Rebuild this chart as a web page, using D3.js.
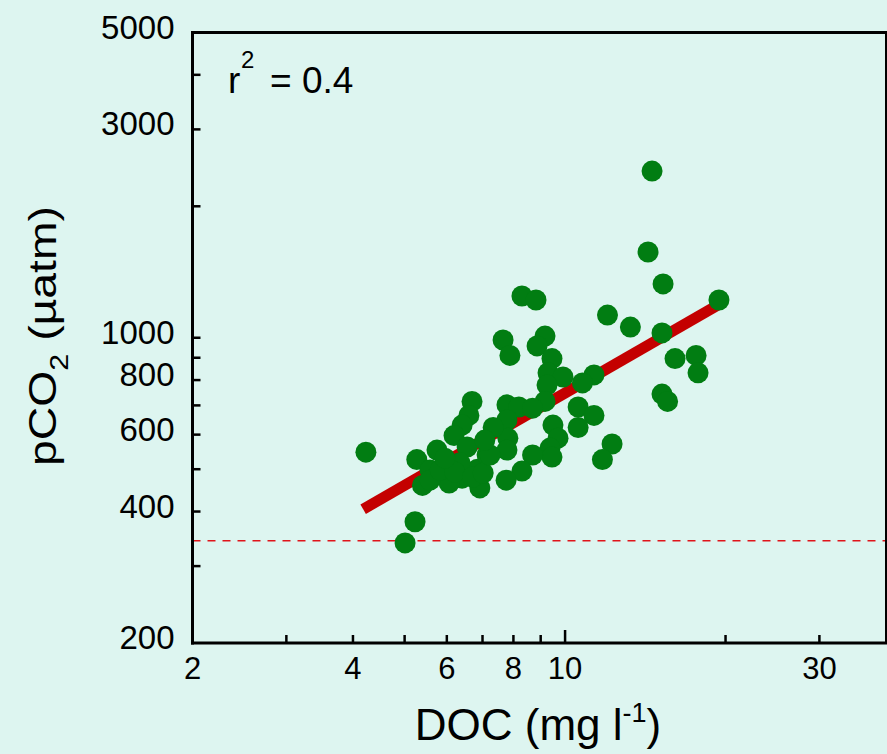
<!DOCTYPE html>
<html>
<head>
<meta charset="utf-8">
<script src="https://cdn.jsdelivr.net/npm/d3@7"></script>
<style>
  html, body { margin: 0; padding: 0; background: #ddf5f0; }
  svg { display: block; font-family: "Liberation Sans", Arial, sans-serif; }
</style>
</head>
<body>
<svg id="chart" width="887" height="754"></svg>
<script>
// Dissolved organic carbon (mg l-1) and pCO2 (µatm) for each sampled lake
const docValues = [
  14.56, 14.31, 15.27, 19.44, 12.01, 13.26, 15.20, 16.08, 17.61, 17.76,
  15.20, 15.57, 12.25, 11.75, 11.33, 10.78, 10.58, 11.33, 10.58,
  8.30, 8.82, 7.65, 7.88, 9.17, 8.86, 9.45, 9.29, 9.91, 9.25, 9.17,
  7.78, 8.19, 8.69, 9.49, 9.70, 9.37, 9.45, 8.69, 8.30, 7.75,
  7.78, 7.81, 7.78, 7.33, 6.92, 6.85, 7.14, 6.41,
  6.69, 6.60, 6.41, 6.19, 6.55, 6.35, 5.75, 5.27, 5.58, 5.40, 6.06,
  5.58, 5.83, 6.21, 6.71, 7.02, 7.23, 5.95, 7.07,
  4.23, 5.23, 5.01
];
const pco2Values = [
  2408, 1572, 1328, 1220, 1127, 1058, 1026, 896, 911, 831,
  743, 715, 571, 526, 822, 788, 694, 664, 623,
  1246, 1220, 988, 911, 1009, 958, 896, 831, 813, 779, 715,
  702, 694, 690, 631, 589, 559, 533, 539, 495, 472,
  648, 589, 553, 623, 453, 500, 539, 477,
  715, 664, 631, 597, 562, 517, 553, 526, 498, 459, 465,
  472, 498, 493, 480, 490, 539, 530, 583,
  547, 379, 339
];

// Log-log regression line endpoints
const fitDoc = [4.18, 19.36];
const fitPco2 = [405, 1189];
const rSquared = "0.4";

// Atmospheric equilibrium reference level
const atmPco2 = 343;

// Axis ticks and labels
const xTicks = [3, 4, 5, 6, 7, 8, 9, 10, 20, 30];
const xLabels = [2, 4, 6, 8, 10, 30];
const yTicks = [300, 400, 500, 600, 700, 800, 900, 1000, 2000, 3000, 4000];
const yLabels = [200, 400, 600, 800, 1000, 3000, 5000];

const svg = d3.select("#chart");
const plotLeft = 192.5, plotRight = 886, plotTop = 32.5, plotBottom = 643;

const x = d3.scaleLog().domain([2, 40]).range([plotLeft, plotRight]);
const y = d3.scaleLog().domain([200, 5000]).range([plotBottom, plotTop]);

// Dashed reference line
svg.append("line")
  .attr("x1", plotLeft).attr("x2", plotRight)
  .attr("y1", y(atmPco2)).attr("y2", y(atmPco2))
  .attr("stroke", "#e0141a").attr("stroke-width", 1.6)
  .attr("stroke-dasharray", "8,7");

// Regression line
svg.append("line")
  .attr("x1", x(fitDoc[0])).attr("y1", y(fitPco2[0]))
  .attr("x2", x(fitDoc[1])).attr("y2", y(fitPco2[1]))
  .attr("stroke", "#c40000").attr("stroke-width", 11);

// Observations
const pts = docValues.map((d, i) => ({ doc: d, pco2: pco2Values[i] }));
svg.append("g").selectAll("circle").data(pts).join("circle")
  .attr("cx", d => x(d.doc))
  .attr("cy", d => y(d.pco2))
  .attr("r", 10.5)
  .attr("fill", "#017d12");

// Frame: top and right
svg.append("line").attr("x1", plotLeft).attr("x2", plotRight + 2).attr("y1", plotTop).attr("y2", plotTop)
  .attr("stroke", "#000").attr("stroke-width", 3);
svg.append("line").attr("x1", plotRight).attr("x2", plotRight).attr("y1", plotTop).attr("y2", plotBottom)
  .attr("stroke", "#000").attr("stroke-width", 2);

// Bottom axis (ticks point inward)
const xAxis = svg.append("g").attr("transform", `translate(0,${plotBottom})`);
xAxis.append("line").attr("x1", plotLeft - 1.5).attr("x2", plotRight + 2).attr("stroke", "#000").attr("stroke-width", 3);
xAxis.selectAll("line.tick").data(xTicks).join("line").attr("class", "tick")
  .attr("x1", d => x(d)).attr("x2", d => x(d))
  .attr("y1", 0).attr("y2", d => d === 10 ? -13 : -8)
  .attr("stroke", "#000").attr("stroke-width", 2.5);
xAxis.selectAll("text").data(xLabels).join("text")
  .attr("x", d => x(d)).attr("y", 36)
  .attr("text-anchor", "middle")
  .attr("font-size", 31)
  .text(d => d);

// Left axis (ticks point inward)
const yAxis = svg.append("g").attr("transform", `translate(${plotLeft},0)`);
yAxis.append("line").attr("y1", plotTop - 1.5).attr("y2", plotBottom + 1.5).attr("stroke", "#000").attr("stroke-width", 3);
yAxis.selectAll("line.tick").data(yTicks).join("line").attr("class", "tick")
  .attr("y1", d => y(d)).attr("y2", d => y(d))
  .attr("x1", 0).attr("x2", 8)
  .attr("stroke", "#000").attr("stroke-width", 2.5);
yAxis.selectAll("text").data(yLabels).join("text")
  .attr("x", -18).attr("y", d => y(d) + 6)
  .attr("text-anchor", "end")
  .attr("font-size", 33)
  .text(d => d);

// Axis titles
const xt = svg.append("text")
  .attr("x", 538).attr("y", 740)
  .attr("text-anchor", "middle")
  .attr("font-size", 44);
xt.append("tspan").text("DOC (mg l");
xt.append("tspan").attr("font-size", 27).attr("dy", -18).text("-1");
xt.append("tspan").attr("dy", 18).text(")");

const yt = svg.append("text")
  .attr("transform", "translate(56,336) rotate(-90) scale(1.22,1)")
  .attr("text-anchor", "middle")
  .attr("font-size", 38);
yt.append("tspan").text("pCO");
yt.append("tspan").attr("font-size", 25).attr("dy", 12).text("2");
yt.append("tspan").attr("dy", -12).text(" (µatm)");

// r² annotation
const rt = svg.append("text").attr("y", 93).attr("font-size", 37);
rt.append("tspan").attr("x", 228).text("r");
rt.append("tspan").attr("x", 241).attr("font-size", 24).attr("dy", -25).text("2");
rt.append("tspan").attr("x", 270).attr("dy", 25).text("= " + rSquared);
</script>
</body>
</html>
